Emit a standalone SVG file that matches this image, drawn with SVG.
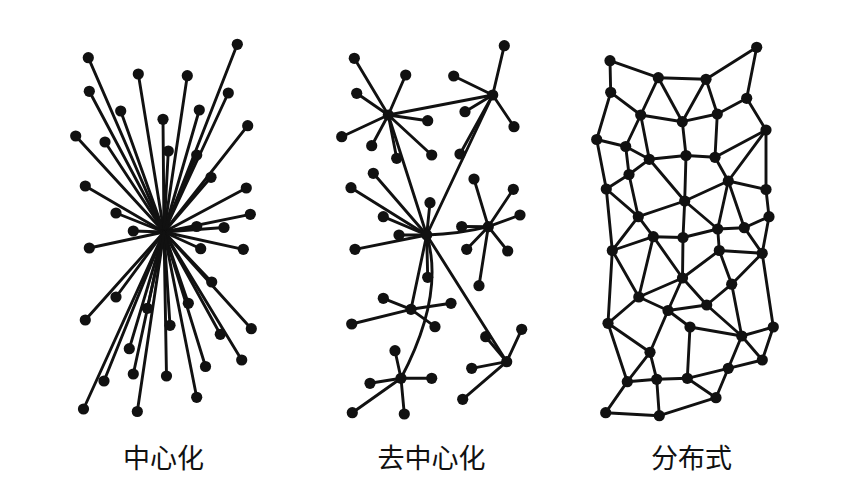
<svg xmlns="http://www.w3.org/2000/svg" width="846" height="495" viewBox="0 0 846 495">
<style>
.e{stroke:#111;stroke-width:2.9;fill:none;stroke-linecap:round}
.n{fill:#111}
.n circle{r:5.6px}
.t{font-family:"Noto Sans CJK SC","Noto Sans",sans-serif;font-size:27px;fill:#111;text-anchor:middle}
</style>
<rect width="846" height="495" fill="#fff"/>
<g id="connectors" class="e">
<g id="star-edges">
<line x1="164" y1="232" x2="237.3" y2="44.3"/><line x1="164" y1="232" x2="88.3" y2="57.7"/>
<line x1="164" y1="232" x2="138.3" y2="74"/><line x1="164" y1="232" x2="187.3" y2="75.7"/>
<line x1="164" y1="232" x2="89.3" y2="91.3"/><line x1="164" y1="232" x2="228.3" y2="93"/>
<line x1="164" y1="232" x2="120.7" y2="111"/><line x1="164" y1="232" x2="199.3" y2="110"/>
<line x1="164" y1="232" x2="163" y2="119.3"/><line x1="164" y1="232" x2="247.7" y2="125.7"/>
<line x1="164" y1="232" x2="75.7" y2="136"/><line x1="164" y1="232" x2="105" y2="142"/>
<line x1="164" y1="232" x2="168.3" y2="151"/><line x1="164" y1="232" x2="196.7" y2="155"/>
<line x1="164" y1="232" x2="211" y2="177.3"/><line x1="164" y1="232" x2="85.3" y2="186"/>
<line x1="164" y1="232" x2="246.3" y2="188"/><line x1="164" y1="232" x2="116" y2="213"/>
<line x1="164" y1="232" x2="250.3" y2="214.3"/><line x1="164" y1="232" x2="196.7" y2="226.5"/>
<line x1="164" y1="232" x2="224" y2="227.5"/><line x1="164" y1="232" x2="133.3" y2="231"/>
<line x1="164" y1="232" x2="89.3" y2="248"/><line x1="164" y1="232" x2="200.7" y2="248.7"/>
<line x1="164" y1="232" x2="243.3" y2="249.3"/><line x1="164" y1="232" x2="211.7" y2="282"/>
<line x1="164" y1="232" x2="116" y2="297"/><line x1="164" y1="232" x2="188.3" y2="303.3"/>
<line x1="164" y1="232" x2="147.3" y2="308.3"/><line x1="164" y1="232" x2="85.3" y2="320"/>
<line x1="164" y1="232" x2="170" y2="325.3"/><line x1="164" y1="232" x2="251.3" y2="328.7"/>
<line x1="164" y1="232" x2="220.3" y2="334.3"/><line x1="164" y1="232" x2="129.3" y2="348.7"/>
<line x1="164" y1="232" x2="241.7" y2="360"/><line x1="164" y1="232" x2="205.5" y2="366.5"/>
<line x1="164" y1="232" x2="133.3" y2="374"/><line x1="164" y1="232" x2="166.5" y2="376"/>
<line x1="164" y1="232" x2="104" y2="381"/><line x1="164" y1="232" x2="196.7" y2="397.3"/>
<line x1="164" y1="232" x2="83.5" y2="409"/><line x1="164" y1="232" x2="137.3" y2="411.5"/>
</g>
<g id="decentral-edges">
<line x1="388.3" y1="115" x2="354.3" y2="58.3"/><line x1="388.3" y1="115" x2="405.7" y2="75"/>
<line x1="388.3" y1="115" x2="356.7" y2="93.3"/><line x1="388.3" y1="115" x2="427.7" y2="120.7"/>
<line x1="388.3" y1="115" x2="341.7" y2="136.7"/><line x1="388.3" y1="115" x2="371.7" y2="145.7"/>
<line x1="388.3" y1="115" x2="396.7" y2="158.3"/><line x1="388.3" y1="115" x2="431.7" y2="155"/>
<line x1="388.3" y1="115" x2="492.7" y2="95"/><line x1="388.3" y1="115" x2="426.7" y2="235"/>
<line x1="492.7" y1="95" x2="504.3" y2="45.7"/><line x1="492.7" y1="95" x2="453.7" y2="76"/>
<line x1="492.7" y1="95" x2="465" y2="111.7"/><line x1="492.7" y1="95" x2="514" y2="126.7"/>
<line x1="492.7" y1="95" x2="460" y2="154"/><line x1="492.7" y1="95" x2="426.7" y2="235"/>
<line x1="426.7" y1="235" x2="373.3" y2="173.3"/><line x1="426.7" y1="235" x2="351" y2="187.7"/>
<line x1="426.7" y1="235" x2="383.3" y2="216.7"/><line x1="426.7" y1="235" x2="430" y2="202.7"/>
<line x1="426.7" y1="235" x2="399" y2="235"/><line x1="426.7" y1="235" x2="355" y2="249.3"/>
<line x1="426.7" y1="235" x2="427.7" y2="277.3"/><line x1="426.7" y1="235" x2="411" y2="309.3"/>
<line x1="426.7" y1="235" x2="506.7" y2="361.7"/>
<path d="M426.7,235 Q460,234 488.3,226.7"/>
<path d="M401,378.3 Q445,295 426.7,235"/>
<line x1="411" y1="309.3" x2="383.3" y2="298.3"/><line x1="411" y1="309.3" x2="451" y2="303.3"/>
<line x1="411" y1="309.3" x2="351.7" y2="324"/><line x1="411" y1="309.3" x2="435" y2="326.7"/>
<line x1="401" y1="378.3" x2="395" y2="350.7"/><line x1="401" y1="378.3" x2="431.7" y2="378.3"/>
<line x1="401" y1="378.3" x2="370" y2="383.3"/><line x1="401" y1="378.3" x2="352.3" y2="412.7"/>
<line x1="401" y1="378.3" x2="404.3" y2="414"/>
<line x1="506.7" y1="361.7" x2="521.7" y2="329.3"/><line x1="506.7" y1="361.7" x2="485.7" y2="336.7"/>
<line x1="506.7" y1="361.7" x2="471.7" y2="368.3"/><line x1="506.7" y1="361.7" x2="462.7" y2="399.3"/>
<line x1="488.3" y1="226.7" x2="474" y2="179"/><line x1="488.3" y1="226.7" x2="513.3" y2="189.3"/>
<line x1="488.3" y1="226.7" x2="520" y2="215"/><line x1="488.3" y1="226.7" x2="461.7" y2="226.5"/>
<line x1="488.3" y1="226.7" x2="466.7" y2="249.3"/><line x1="488.3" y1="226.7" x2="507.7" y2="251"/>
<line x1="488.3" y1="226.7" x2="479" y2="285.7"/>
</g>
<g id="mesh-edges">
<line x1="610" y1="60.7" x2="658.3" y2="77.7"/><line x1="658.3" y1="77.7" x2="706" y2="79.3"/>
<line x1="706" y1="79.3" x2="756.7" y2="47.3"/><line x1="756.7" y1="47.3" x2="746.7" y2="98.3"/>
<line x1="610" y1="60.7" x2="610.7" y2="92.3"/><line x1="610.7" y1="92.3" x2="640.7" y2="115"/>
<line x1="658.3" y1="77.7" x2="640.7" y2="115"/><line x1="658.3" y1="77.7" x2="682.3" y2="121.7"/>
<line x1="706" y1="79.3" x2="682.3" y2="121.7"/><line x1="706" y1="79.3" x2="717.3" y2="114"/>
<line x1="717.3" y1="114" x2="682.3" y2="121.7"/><line x1="640.7" y1="115" x2="682.3" y2="121.7"/>
<line x1="717.3" y1="114" x2="746.7" y2="98.3"/><line x1="746.7" y1="98.3" x2="766" y2="130"/>
<line x1="610.7" y1="92.3" x2="596.7" y2="139.5"/><line x1="640.7" y1="115" x2="625.7" y2="146.5"/>
<line x1="640.7" y1="115" x2="649.3" y2="159.3"/><line x1="682.3" y1="121.7" x2="686" y2="155.5"/>
<line x1="717.3" y1="114" x2="715" y2="157.3"/><line x1="649.3" y1="159.3" x2="686" y2="155.5"/>
<line x1="686" y1="155.5" x2="715" y2="157.3"/><line x1="625.7" y1="146.5" x2="649.3" y2="159.3"/>
<line x1="596.7" y1="139.5" x2="625.7" y2="146.5"/><line x1="715" y1="157.3" x2="766" y2="130"/>
<line x1="766" y1="130" x2="728.3" y2="181"/><line x1="766" y1="130" x2="766" y2="189.5"/>
<line x1="596.7" y1="139.5" x2="606.3" y2="189"/><line x1="625.7" y1="146.5" x2="629" y2="174.5"/>
<line x1="649.3" y1="159.3" x2="629" y2="174.5"/><line x1="649.3" y1="159.3" x2="684.7" y2="201"/>
<line x1="686" y1="155.5" x2="684.7" y2="201"/><line x1="715" y1="157.3" x2="728.3" y2="181"/>
<line x1="629" y1="174.5" x2="606.3" y2="189"/><line x1="629" y1="174.5" x2="638.3" y2="216.7"/>
<line x1="606.3" y1="189" x2="638.3" y2="216.7"/><line x1="606.3" y1="189" x2="612.3" y2="250.5"/>
<line x1="638.3" y1="216.7" x2="684.7" y2="201"/><line x1="638.3" y1="216.7" x2="653.3" y2="236.7"/>
<line x1="638.3" y1="216.7" x2="612.3" y2="250.5"/><line x1="653.3" y1="236.7" x2="612.3" y2="250.5"/>
<line x1="653.3" y1="236.7" x2="683" y2="237.5"/><line x1="684.7" y1="201" x2="683" y2="237.5"/>
<line x1="684.7" y1="201" x2="728.3" y2="181"/><line x1="684.7" y1="201" x2="717.7" y2="229"/>
<line x1="683" y1="237.5" x2="717.7" y2="229"/><line x1="728.3" y1="181" x2="766" y2="189.5"/>
<line x1="728.3" y1="181" x2="717.7" y2="229"/><line x1="728.3" y1="181" x2="744.3" y2="227.7"/>
<line x1="766" y1="189.5" x2="769" y2="216.7"/><line x1="769" y1="216.7" x2="744.3" y2="227.7"/>
<line x1="717.7" y1="229" x2="744.3" y2="227.7"/><line x1="769" y1="216.7" x2="762.2" y2="253.3"/>
<line x1="744.3" y1="227.7" x2="762.2" y2="253.3"/><line x1="717.7" y1="229" x2="719.3" y2="250.5"/>
<line x1="719.3" y1="250.5" x2="762.2" y2="253.3"/><line x1="653.3" y1="236.7" x2="638.8" y2="297"/>
<line x1="653.3" y1="236.7" x2="682.5" y2="278"/><line x1="683" y1="237.5" x2="682.5" y2="278"/>
<line x1="719.3" y1="250.5" x2="682.5" y2="278"/><line x1="719.3" y1="250.5" x2="731.7" y2="284.2"/>
<line x1="762.2" y1="253.3" x2="731.7" y2="284.2"/><line x1="762.2" y1="253.3" x2="773.3" y2="327"/>
<line x1="612.3" y1="250.5" x2="638.8" y2="297"/><line x1="612.3" y1="250.5" x2="608" y2="323.3"/>
<line x1="682.5" y1="278" x2="638.8" y2="297"/><line x1="682.5" y1="278" x2="668" y2="310.5"/>
<line x1="682.5" y1="278" x2="706.7" y2="305"/><line x1="731.7" y1="284.2" x2="706.7" y2="305"/>
<line x1="731.7" y1="284.2" x2="741.7" y2="336"/><line x1="638.8" y1="297" x2="668" y2="310.5"/>
<line x1="638.8" y1="297" x2="608" y2="323.3"/><line x1="668" y1="310.5" x2="706.7" y2="305"/>
<line x1="668" y1="310.5" x2="690" y2="327"/><line x1="668" y1="310.5" x2="650" y2="352.3"/>
<line x1="706.7" y1="305" x2="741.7" y2="336"/><line x1="690" y1="327" x2="741.7" y2="336"/>
<line x1="690" y1="327" x2="687.3" y2="378.3"/><line x1="608" y1="323.3" x2="650" y2="352.3"/>
<line x1="608" y1="323.3" x2="627.3" y2="381.7"/><line x1="650" y1="352.3" x2="627.3" y2="381.7"/>
<line x1="650" y1="352.3" x2="656.7" y2="379.3"/><line x1="741.7" y1="336" x2="773.3" y2="327"/>
<line x1="741.7" y1="336" x2="762.3" y2="360"/><line x1="741.7" y1="336" x2="728.3" y2="368.3"/>
<line x1="773.3" y1="327" x2="762.3" y2="360"/><line x1="762.3" y1="360" x2="728.3" y2="368.3"/>
<line x1="728.3" y1="368.3" x2="687.3" y2="378.3"/><line x1="728.3" y1="368.3" x2="716" y2="397.7"/>
<line x1="687.3" y1="378.3" x2="656.7" y2="379.3"/><line x1="687.3" y1="378.3" x2="716" y2="397.7"/>
<line x1="656.7" y1="379.3" x2="627.3" y2="381.7"/><line x1="656.7" y1="379.3" x2="659.3" y2="415.7"/>
<line x1="627.3" y1="381.7" x2="605.7" y2="412.7"/><line x1="605.7" y1="412.7" x2="659.3" y2="415.7"/>
<line x1="659.3" y1="415.7" x2="716" y2="397.7"/>
</g>
</g>
<g id="nodes-central" class="n">
<g id="c1"><circle cx="237.3" cy="44.3" r="5.6"/></g><g id="c2"><circle cx="88.3" cy="57.7" r="5.6"/></g>
<g id="c3"><circle cx="138.3" cy="74" r="5.6"/></g><g id="c4"><circle cx="187.3" cy="75.7" r="5.6"/></g>
<g id="c5"><circle cx="89.3" cy="91.3" r="5.6"/></g><g id="c6"><circle cx="228.3" cy="93" r="5.6"/></g>
<g id="c7"><circle cx="120.7" cy="111" r="5.6"/></g><g id="c8"><circle cx="199.3" cy="110" r="5.6"/></g>
<g id="c9"><circle cx="163" cy="119.3" r="5.6"/></g><g id="c10"><circle cx="247.7" cy="125.7" r="5.6"/></g>
<g id="c11"><circle cx="75.7" cy="136" r="5.6"/></g><g id="c12"><circle cx="105" cy="142" r="5.6"/></g>
<g id="c13"><circle cx="168.3" cy="151" r="5.6"/></g><g id="c14"><circle cx="196.7" cy="155" r="5.6"/></g>
<g id="c15"><circle cx="211" cy="177.3" r="5.6"/></g><g id="c16"><circle cx="85.3" cy="186" r="5.6"/></g>
<g id="c17"><circle cx="246.3" cy="188" r="5.6"/></g><g id="c18"><circle cx="116" cy="213" r="5.6"/></g>
<g id="c19"><circle cx="250.3" cy="214.3" r="5.6"/></g><g id="c20"><circle cx="196.7" cy="226.5" r="5.6"/></g>
<g id="c21"><circle cx="224" cy="227.5" r="5.6"/></g><g id="c22"><circle cx="133.3" cy="231" r="5.6"/></g>
<g id="c23"><circle cx="89.3" cy="248" r="5.6"/></g><g id="c24"><circle cx="200.7" cy="248.7" r="5.6"/></g>
<g id="c25"><circle cx="243.3" cy="249.3" r="5.6"/></g><g id="c26"><circle cx="211.7" cy="282" r="5.6"/></g>
<g id="c27"><circle cx="116" cy="297" r="5.6"/></g><g id="c28"><circle cx="188.3" cy="303.3" r="5.6"/></g>
<g id="c29"><circle cx="147.3" cy="308.3" r="5.6"/></g><g id="c30"><circle cx="85.3" cy="320" r="5.6"/></g>
<g id="c31"><circle cx="170" cy="325.3" r="5.6"/></g><g id="c32"><circle cx="251.3" cy="328.7" r="5.6"/></g>
<g id="c33"><circle cx="220.3" cy="334.3" r="5.6"/></g><g id="c34"><circle cx="129.3" cy="348.7" r="5.6"/></g>
<g id="c35"><circle cx="241.7" cy="360" r="5.6"/></g><g id="c36"><circle cx="205.5" cy="366.5" r="5.6"/></g>
<g id="c37"><circle cx="133.3" cy="374" r="5.6"/></g><g id="c38"><circle cx="166.5" cy="376" r="5.6"/></g>
<g id="c39"><circle cx="104" cy="381" r="5.6"/></g><g id="c40"><circle cx="196.7" cy="397.3" r="5.6"/></g>
<g id="c41"><circle cx="83.5" cy="409" r="5.6"/></g><g id="c42"><circle cx="137.3" cy="411.5" r="5.6"/></g>
</g>
<g id="nodes-decentral" class="n">
<g id="hubA"><circle cx="388.3" cy="115" r="6"/></g><g id="hubB"><circle cx="492.7" cy="95" r="6"/></g>
<g id="hubC"><circle cx="426.7" cy="235" r="6"/></g><g id="hubD"><circle cx="411" cy="309.3" r="6"/></g>
<g id="hubE"><circle cx="401" cy="378.3" r="6"/></g><g id="hubF"><circle cx="506.7" cy="361.7" r="6"/></g>
<g id="hubG"><circle cx="488.3" cy="226.7" r="6"/></g>
<g id="a1"><circle cx="354.3" cy="58.3" r="5.6"/></g><g id="a2"><circle cx="405.7" cy="75" r="5.6"/></g>
<g id="a3"><circle cx="356.7" cy="93.3" r="5.6"/></g><g id="a4"><circle cx="427.7" cy="120.7" r="5.6"/></g>
<g id="a5"><circle cx="341.7" cy="136.7" r="5.6"/></g><g id="a6"><circle cx="371.7" cy="145.7" r="5.6"/></g>
<g id="a7"><circle cx="396.7" cy="158.3" r="5.6"/></g><g id="a8"><circle cx="431.7" cy="155" r="5.6"/></g>
<g id="b1"><circle cx="504.3" cy="45.7" r="5.6"/></g><g id="b2"><circle cx="453.7" cy="76" r="5.6"/></g>
<g id="b3"><circle cx="465" cy="111.7" r="5.6"/></g><g id="b4"><circle cx="514" cy="126.7" r="5.6"/></g>
<g id="b5"><circle cx="460" cy="154" r="5.6"/></g>
<g id="cc1"><circle cx="373.3" cy="173.3" r="5.6"/></g><g id="cc2"><circle cx="351" cy="187.7" r="5.6"/></g>
<g id="cc3"><circle cx="383.3" cy="216.7" r="5.6"/></g><g id="cc4"><circle cx="430" cy="202.7" r="5.6"/></g>
<g id="cc5"><circle cx="399" cy="235" r="5.6"/></g><g id="cc6"><circle cx="355" cy="249.3" r="5.6"/></g>
<g id="cc7"><circle cx="427.7" cy="277.3" r="5.6"/></g>
<g id="d1"><circle cx="383.3" cy="298.3" r="5.6"/></g><g id="d2"><circle cx="451" cy="303.3" r="5.6"/></g>
<g id="d3"><circle cx="351.7" cy="324" r="5.6"/></g><g id="d4"><circle cx="435" cy="326.7" r="5.6"/></g>
<g id="e1"><circle cx="395" cy="350.7" r="5.6"/></g><g id="e2"><circle cx="431.7" cy="378.3" r="5.6"/></g>
<g id="e3"><circle cx="370" cy="383.3" r="5.6"/></g><g id="e4"><circle cx="352.3" cy="412.7" r="5.6"/></g>
<g id="e5"><circle cx="404.3" cy="414" r="5.6"/></g>
<g id="f1"><circle cx="521.7" cy="329.3" r="5.6"/></g><g id="f2"><circle cx="485.7" cy="336.7" r="5.6"/></g>
<g id="f3"><circle cx="471.7" cy="368.3" r="5.6"/></g><g id="f4"><circle cx="462.7" cy="399.3" r="5.6"/></g>
<g id="g1"><circle cx="474" cy="179" r="5.6"/></g><g id="g2"><circle cx="513.3" cy="189.3" r="5.6"/></g>
<g id="g3"><circle cx="520" cy="215" r="5.6"/></g><g id="g4"><circle cx="461.7" cy="226.5" r="5.6"/></g>
<g id="g5"><circle cx="466.7" cy="249.3" r="5.6"/></g><g id="g6"><circle cx="507.7" cy="251" r="5.6"/></g>
<g id="g7"><circle cx="479" cy="285.7" r="5.6"/></g>
</g>
<g id="nodes-mesh" class="n">
<g id="N1"><circle cx="610" cy="60.7" r="5.6"/></g><g id="N2"><circle cx="658.3" cy="77.7" r="5.6"/></g>
<g id="N3"><circle cx="706" cy="79.3" r="5.6"/></g><g id="N4"><circle cx="756.7" cy="47.3" r="5.6"/></g>
<g id="N5"><circle cx="610.7" cy="92.3" r="5.6"/></g><g id="N6"><circle cx="746.7" cy="98.3" r="5.6"/></g>
<g id="N7"><circle cx="640.7" cy="115" r="5.6"/></g><g id="N8"><circle cx="717.3" cy="114" r="5.6"/></g>
<g id="N9"><circle cx="682.3" cy="121.7" r="5.6"/></g><g id="N10"><circle cx="766" cy="130" r="5.6"/></g>
<g id="N11"><circle cx="596.7" cy="139.5" r="5.6"/></g><g id="N12"><circle cx="625.7" cy="146.5" r="5.6"/></g>
<g id="N13"><circle cx="649.3" cy="159.3" r="5.6"/></g><g id="N14"><circle cx="686" cy="155.5" r="5.6"/></g>
<g id="N15"><circle cx="715" cy="157.3" r="5.6"/></g><g id="N16"><circle cx="629" cy="174.5" r="5.6"/></g>
<g id="M2"><circle cx="606.3" cy="189" r="5.6"/></g><g id="M3"><circle cx="728.3" cy="181" r="5.6"/></g>
<g id="M4"><circle cx="766" cy="189.5" r="5.6"/></g><g id="M5"><circle cx="684.7" cy="201" r="5.6"/></g>
<g id="M6"><circle cx="638.3" cy="216.7" r="5.6"/></g><g id="M7"><circle cx="769" cy="216.7" r="5.6"/></g>
<g id="M8"><circle cx="717.7" cy="229" r="5.6"/></g><g id="M9"><circle cx="744.3" cy="227.7" r="5.6"/></g>
<g id="M10"><circle cx="653.3" cy="236.7" r="5.6"/></g><g id="M11"><circle cx="683" cy="237.5" r="5.6"/></g>
<g id="M12"><circle cx="612.3" cy="250.5" r="5.6"/></g><g id="M13"><circle cx="719.3" cy="250.5" r="5.6"/></g>
<g id="M14"><circle cx="762.2" cy="253.3" r="5.6"/></g><g id="M15"><circle cx="682.5" cy="278" r="5.6"/></g>
<g id="M16"><circle cx="731.7" cy="284.2" r="5.6"/></g>
<g id="K1"><circle cx="638.8" cy="297" r="5.6"/></g><g id="K2"><circle cx="706.7" cy="305" r="5.6"/></g>
<g id="K3"><circle cx="668" cy="310.5" r="5.6"/></g><g id="K4"><circle cx="608" cy="323.3" r="5.6"/></g>
<g id="K5"><circle cx="690" cy="327" r="5.6"/></g><g id="K6"><circle cx="773.3" cy="327" r="5.6"/></g>
<g id="K7"><circle cx="741.7" cy="336" r="5.6"/></g><g id="K8"><circle cx="650" cy="352.3" r="5.6"/></g>
<g id="K9"><circle cx="762.3" cy="360" r="5.6"/></g><g id="K10"><circle cx="728.3" cy="368.3" r="5.6"/></g>
<g id="K11"><circle cx="627.3" cy="381.7" r="5.6"/></g><g id="K12"><circle cx="656.7" cy="379.3" r="5.6"/></g>
<g id="K13"><circle cx="687.3" cy="378.3" r="5.6"/></g><g id="K14"><circle cx="716" cy="397.7" r="5.6"/></g>
<g id="K15"><circle cx="605.7" cy="412.7" r="5.6"/></g><g id="K16"><circle cx="659.3" cy="415.7" r="5.6"/></g>
</g>
<g id="labels">
<text class="t" x="163.5" y="468">中心化</text>
<text class="t" x="431.5" y="468">去中心化</text>
<text class="t" x="691.5" y="468">分布式</text>
</g>
</svg>
